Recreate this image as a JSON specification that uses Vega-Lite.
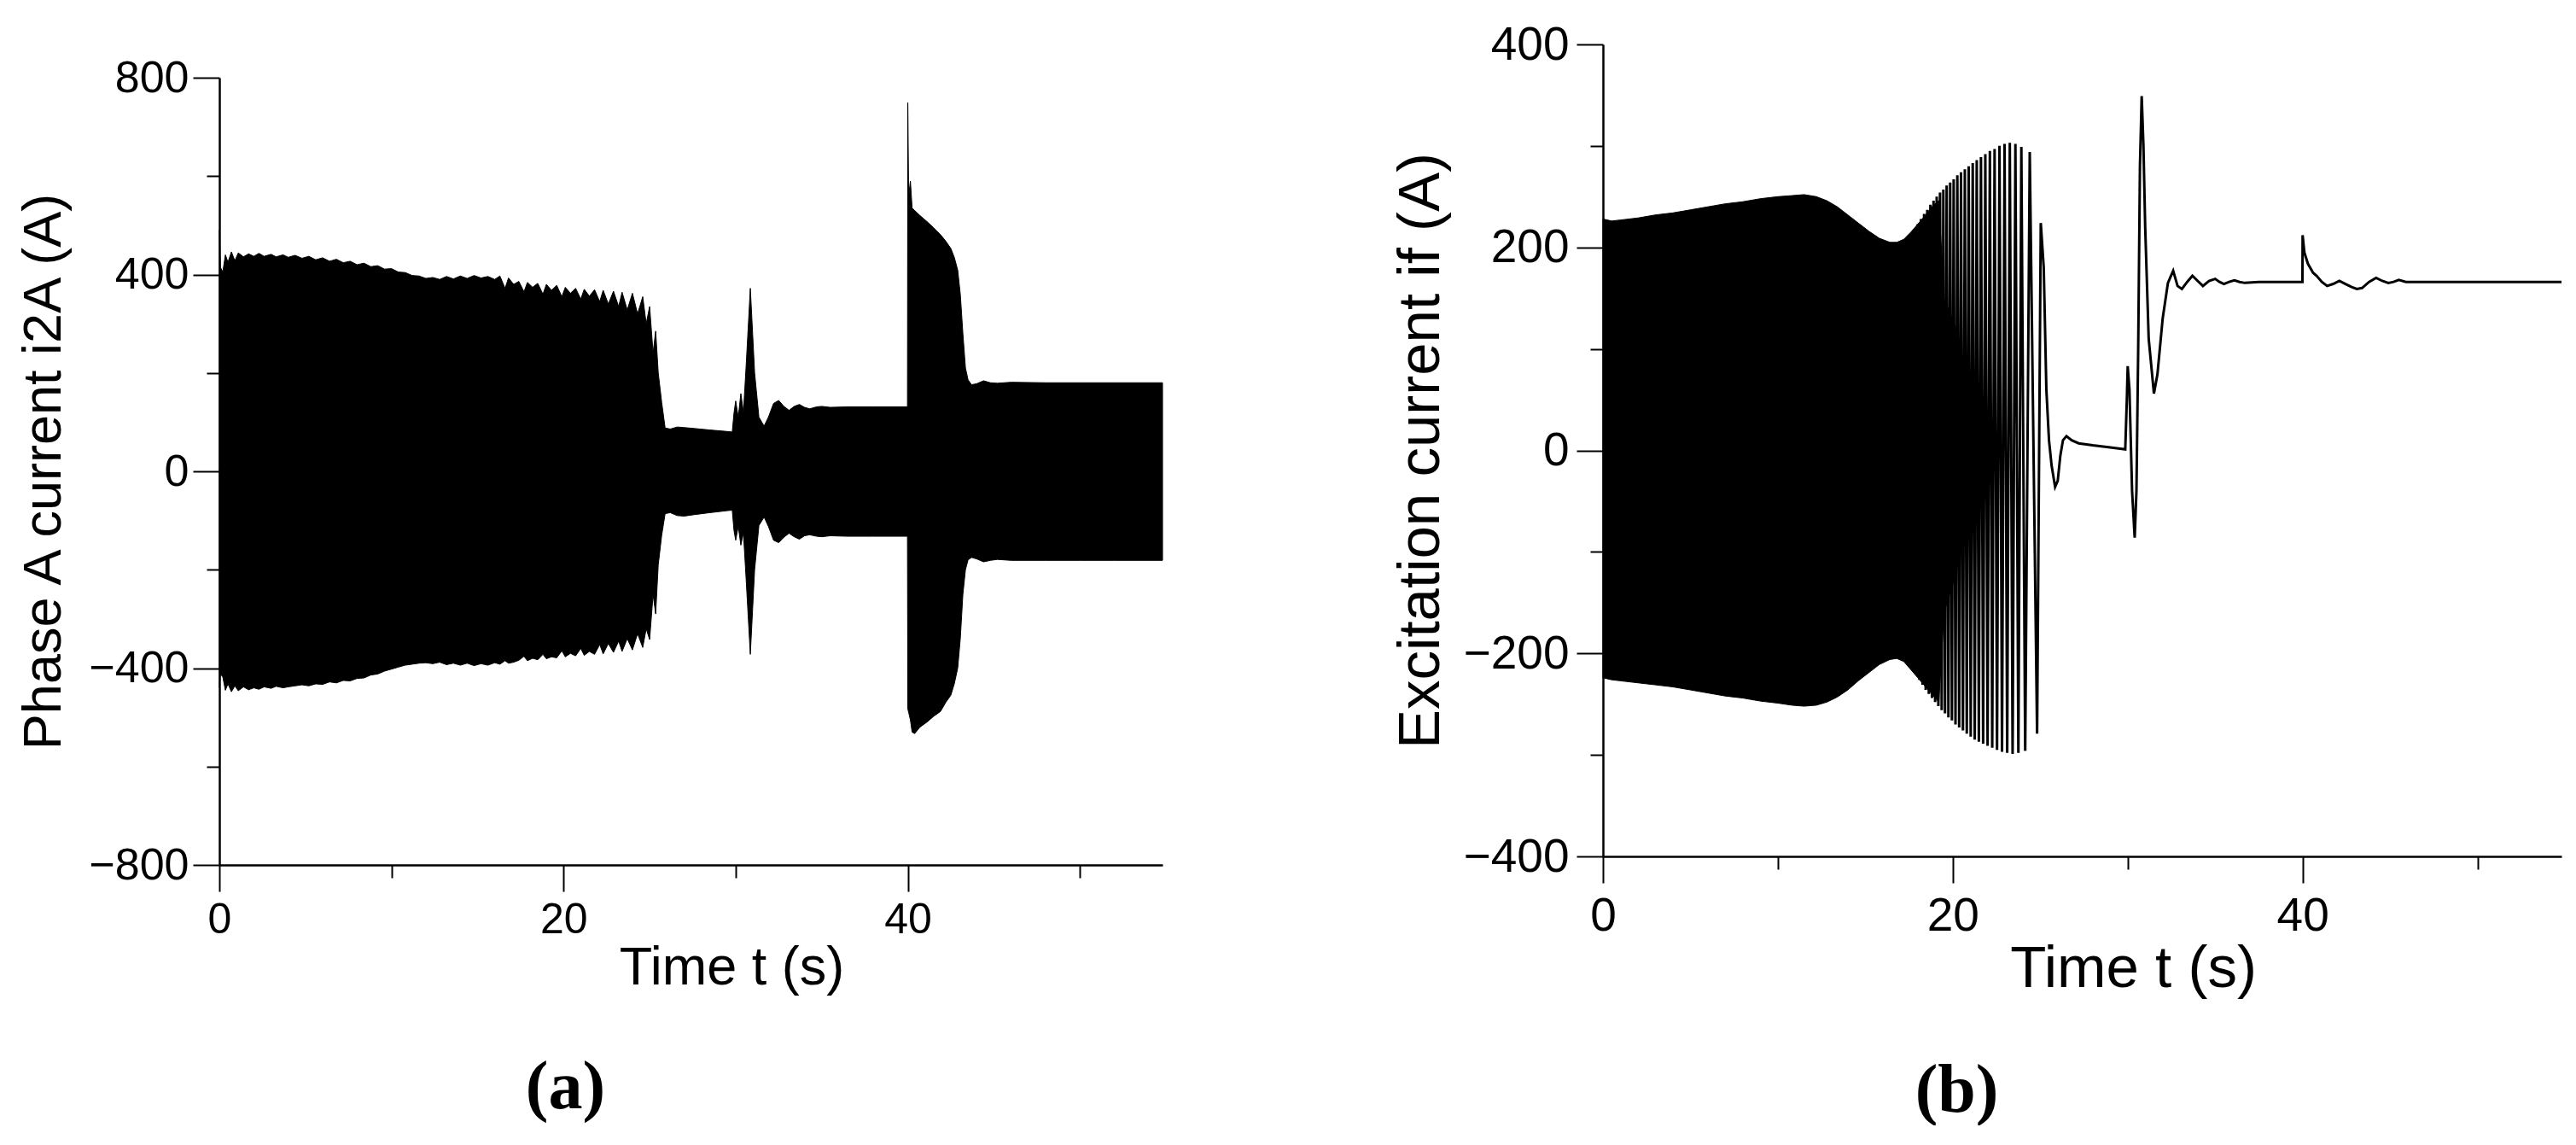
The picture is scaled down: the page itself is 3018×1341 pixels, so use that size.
{
  "$schema": "https://vega.github.io/schema/vega-lite/v6.json",
  "background": "white",
  "padding": {"left": 20, "top": 25, "right": 5, "bottom": 0},
  "config": {
    "view": {"stroke": null},
    "axis": {"domainColor": "black", "domainWidth": 2.5, "tickColor": "black", "tickWidth": 2, "labelColor": "black", "titleColor": "black", "labelFont": "Liberation Sans", "titleFont": "Liberation Sans", "titleFontWeight": "normal", "grid": false, "labelFlush": false, "labelOverlap": false}
  },
  "datasets": {
    "a": [
      {"t": 0.0, "hi": 490, "lo": -440}, {"t": 0.06, "hi": 415, "lo": -412}, {"t": 0.2, "hi": 405, "lo": -418}, {"t": 0.35, "hi": 440, "lo": -445},
      {"t": 0.5, "hi": 425, "lo": -432}, {"t": 0.7, "hi": 446, "lo": -448}, {"t": 0.9, "hi": 428, "lo": -436}, {"t": 1.1, "hi": 444, "lo": -446},
      {"t": 1.4, "hi": 436, "lo": -438}, {"t": 1.7, "hi": 442, "lo": -444}, {"t": 2.0, "hi": 437, "lo": -440}, {"t": 2.3, "hi": 443, "lo": -443},
      {"t": 2.6, "hi": 437, "lo": -438}, {"t": 3.0, "hi": 441, "lo": -441}, {"t": 3.3, "hi": 436, "lo": -437}, {"t": 3.7, "hi": 440, "lo": -440},
      {"t": 4.0, "hi": 435, "lo": -438}, {"t": 4.4, "hi": 439, "lo": -436}, {"t": 4.8, "hi": 433, "lo": -434}, {"t": 5.2, "hi": 437, "lo": -436},
      {"t": 5.6, "hi": 430, "lo": -432}, {"t": 6.0, "hi": 434, "lo": -433}, {"t": 6.4, "hi": 427, "lo": -428}, {"t": 6.8, "hi": 431, "lo": -430},
      {"t": 7.2, "hi": 424, "lo": -425}, {"t": 7.6, "hi": 427, "lo": -426}, {"t": 8.0, "hi": 420, "lo": -421}, {"t": 8.4, "hi": 423, "lo": -420},
      {"t": 8.8, "hi": 416, "lo": -414}, {"t": 9.2, "hi": 418, "lo": -412}, {"t": 9.6, "hi": 411, "lo": -406}, {"t": 10.0, "hi": 412, "lo": -402},
      {"t": 10.4, "hi": 405, "lo": -398}, {"t": 10.8, "hi": 404, "lo": -394}, {"t": 11.2, "hi": 398, "lo": -392}, {"t": 11.6, "hi": 397, "lo": -390},
      {"t": 12.0, "hi": 392, "lo": -389}, {"t": 12.4, "hi": 394, "lo": -391}, {"t": 12.8, "hi": 390, "lo": -388}, {"t": 13.2, "hi": 396, "lo": -393},
      {"t": 13.6, "hi": 391, "lo": -390}, {"t": 14.0, "hi": 397, "lo": -394}, {"t": 14.4, "hi": 392, "lo": -390}, {"t": 14.8, "hi": 398, "lo": -395},
      {"t": 15.2, "hi": 393, "lo": -391}, {"t": 15.6, "hi": 396, "lo": -394}, {"t": 16.0, "hi": 390, "lo": -389}, {"t": 16.3, "hi": 397, "lo": -392},
      {"t": 16.6, "hi": 372, "lo": -385}, {"t": 16.8, "hi": 393, "lo": -390}, {"t": 17.1, "hi": 380, "lo": -388}, {"t": 17.4, "hi": 386, "lo": -384},
      {"t": 17.7, "hi": 365, "lo": -376}, {"t": 17.9, "hi": 384, "lo": -385}, {"t": 18.2, "hi": 374, "lo": -380}, {"t": 18.5, "hi": 382, "lo": -383},
      {"t": 18.8, "hi": 360, "lo": -372}, {"t": 19.0, "hi": 380, "lo": -381}, {"t": 19.3, "hi": 368, "lo": -377}, {"t": 19.6, "hi": 378, "lo": -379},
      {"t": 19.9, "hi": 355, "lo": -365}, {"t": 20.1, "hi": 374, "lo": -377}, {"t": 20.4, "hi": 362, "lo": -370}, {"t": 20.7, "hi": 372, "lo": -375},
      {"t": 21.0, "hi": 350, "lo": -360}, {"t": 21.2, "hi": 370, "lo": -374}, {"t": 21.5, "hi": 356, "lo": -366}, {"t": 21.8, "hi": 369, "lo": -372},
      {"t": 22.1, "hi": 345, "lo": -352}, {"t": 22.3, "hi": 368, "lo": -371}, {"t": 22.6, "hi": 340, "lo": -350}, {"t": 22.9, "hi": 366, "lo": -368},
      {"t": 23.2, "hi": 335, "lo": -345}, {"t": 23.4, "hi": 364, "lo": -366}, {"t": 23.7, "hi": 328, "lo": -340}, {"t": 24.0, "hi": 362, "lo": -363},
      {"t": 24.3, "hi": 320, "lo": -330}, {"t": 24.6, "hi": 355, "lo": -358}, {"t": 24.8, "hi": 300, "lo": -320}, {"t": 25.0, "hi": 335, "lo": -342},
      {"t": 25.2, "hi": 240, "lo": -250}, {"t": 25.35, "hi": 285, "lo": -290}, {"t": 25.5, "hi": 200, "lo": -190}, {"t": 25.7, "hi": 140, "lo": -130},
      {"t": 25.9, "hi": 88, "lo": -86}, {"t": 26.2, "hi": 86, "lo": -84}, {"t": 26.6, "hi": 90, "lo": -90}, {"t": 27.0, "hi": 89, "lo": -91},
      {"t": 27.6, "hi": 87, "lo": -88}, {"t": 28.5, "hi": 84, "lo": -84}, {"t": 29.5, "hi": 81, "lo": -80}, {"t": 29.8, "hi": 80, "lo": -79},
      {"t": 29.9, "hi": 118, "lo": -120}, {"t": 30.0, "hi": 143, "lo": -140}, {"t": 30.15, "hi": 110, "lo": -112}, {"t": 30.3, "hi": 158, "lo": -150},
      {"t": 30.45, "hi": 120, "lo": -125}, {"t": 30.6, "hi": 210, "lo": -215}, {"t": 30.85, "hi": 372, "lo": -372}, {"t": 31.1, "hi": 200, "lo": -200},
      {"t": 31.35, "hi": 110, "lo": -110}, {"t": 31.65, "hi": 92, "lo": -93}, {"t": 31.9, "hi": 110, "lo": -112}, {"t": 32.2, "hi": 138, "lo": -140},
      {"t": 32.5, "hi": 144, "lo": -145}, {"t": 32.8, "hi": 132, "lo": -134}, {"t": 33.1, "hi": 124, "lo": -126}, {"t": 33.4, "hi": 132, "lo": -133},
      {"t": 33.7, "hi": 136, "lo": -138}, {"t": 34.0, "hi": 130, "lo": -131}, {"t": 34.3, "hi": 127, "lo": -129}, {"t": 34.7, "hi": 131, "lo": -132},
      {"t": 35.0, "hi": 132, "lo": -133}, {"t": 35.5, "hi": 130, "lo": -131}, {"t": 36.5, "hi": 131, "lo": -132}, {"t": 38.0, "hi": 131, "lo": -132},
      {"t": 39.98, "hi": 131, "lo": -132}, {"t": 40.0, "hi": 749, "lo": -483}, {"t": 40.05, "hi": 560, "lo": -490}, {"t": 40.15, "hi": 590, "lo": -505},
      {"t": 40.25, "hi": 535, "lo": -530}, {"t": 40.4, "hi": 530, "lo": -533}, {"t": 40.7, "hi": 520, "lo": -520}, {"t": 41.1, "hi": 508, "lo": -510},
      {"t": 41.5, "hi": 495, "lo": -498}, {"t": 41.9, "hi": 481, "lo": -488}, {"t": 42.2, "hi": 468, "lo": -470}, {"t": 42.5, "hi": 453, "lo": -455},
      {"t": 42.7, "hi": 435, "lo": -432}, {"t": 42.9, "hi": 409, "lo": -400}, {"t": 43.05, "hi": 360, "lo": -340}, {"t": 43.2, "hi": 280, "lo": -250},
      {"t": 43.35, "hi": 210, "lo": -200}, {"t": 43.5, "hi": 186, "lo": -180}, {"t": 43.7, "hi": 176, "lo": -175}, {"t": 44.0, "hi": 178, "lo": -178},
      {"t": 44.4, "hi": 184, "lo": -184}, {"t": 44.8, "hi": 180, "lo": -181}, {"t": 45.2, "hi": 179, "lo": -179}, {"t": 46.0, "hi": 181, "lo": -181},
      {"t": 48.0, "hi": 180, "lo": -181}, {"t": 50.0, "hi": 180, "lo": -181}, {"t": 52.0, "hi": 180, "lo": -181}, {"t": 54.8, "hi": 180, "lo": -181}
    ],
    "benv": [
      {"t": 0.0, "hi": 228, "lo": -224}, {"t": 0.5, "hi": 226, "lo": -226}, {"t": 1.0, "hi": 227, "lo": -227}, {"t": 2.0, "hi": 229, "lo": -229},
      {"t": 3.0, "hi": 232, "lo": -231}, {"t": 4.0, "hi": 234, "lo": -233}, {"t": 5.0, "hi": 237, "lo": -236}, {"t": 6.0, "hi": 240, "lo": -239},
      {"t": 7.0, "hi": 243, "lo": -242}, {"t": 8.0, "hi": 245, "lo": -244}, {"t": 9.0, "hi": 248, "lo": -247}, {"t": 10.0, "hi": 250, "lo": -249},
      {"t": 10.8, "hi": 251, "lo": -251}, {"t": 11.5, "hi": 252, "lo": -252}, {"t": 12.2, "hi": 250, "lo": -251}, {"t": 12.8, "hi": 246, "lo": -248},
      {"t": 13.4, "hi": 240, "lo": -243}, {"t": 14.0, "hi": 232, "lo": -236}, {"t": 14.6, "hi": 224, "lo": -227}, {"t": 15.2, "hi": 216, "lo": -219},
      {"t": 15.8, "hi": 209, "lo": -211}, {"t": 16.4, "hi": 205, "lo": -206}, {"t": 16.8, "hi": 205, "lo": -205}, {"t": 17.2, "hi": 208, "lo": -208},
      {"t": 17.6, "hi": 215, "lo": -216}, {"t": 18.0, "hi": 223, "lo": -224}, {"t": 18.4, "hi": 231, "lo": -232}, {"t": 18.8, "hi": 240, "lo": -240},
      {"t": 19.2, "hi": 246, "lo": -248}, {"t": 19.5, "hi": 150, "lo": -160}, {"t": 20.2, "hi": 120, "lo": -120}, {"t": 20.9, "hi": 60, "lo": -60}
    ],
    "bline": [
      {"t": 18.0, "v": 223}, {"t": 18.09, "v": -226}, {"t": 18.18, "v": 228}, {"t": 18.27, "v": -231}, {"t": 18.36, "v": 233}, {"t": 18.45, "v": -236},
      {"t": 18.54, "v": 237}, {"t": 18.63, "v": -240}, {"t": 18.72, "v": 242}, {"t": 18.81, "v": -244}, {"t": 18.9, "v": 246}, {"t": 18.99, "v": -248},
      {"t": 19.08, "v": 250}, {"t": 19.175, "v": -252}, {"t": 19.27, "v": 254}, {"t": 19.365, "v": -256}, {"t": 19.46, "v": 257}, {"t": 19.555, "v": -259},
      {"t": 19.65, "v": 261}, {"t": 19.75, "v": -263}, {"t": 19.85, "v": 264}, {"t": 19.95, "v": -266}, {"t": 20.05, "v": 267}, {"t": 20.155, "v": -270},
      {"t": 20.26, "v": 271}, {"t": 20.365, "v": -273}, {"t": 20.47, "v": 274}, {"t": 20.58, "v": -276}, {"t": 20.69, "v": 277}, {"t": 20.8, "v": -279},
      {"t": 20.91, "v": 280}, {"t": 21.025, "v": -282}, {"t": 21.14, "v": 283}, {"t": 21.255, "v": -285}, {"t": 21.37, "v": 286}, {"t": 21.49, "v": -287},
      {"t": 21.61, "v": 289}, {"t": 21.735, "v": -289}, {"t": 21.86, "v": 292}, {"t": 21.99, "v": -291}, {"t": 22.12, "v": 295}, {"t": 22.255, "v": -293},
      {"t": 22.39, "v": 297}, {"t": 22.53, "v": -295}, {"t": 22.67, "v": 300}, {"t": 22.815, "v": -297}, {"t": 22.96, "v": 302}, {"t": 23.11, "v": -298},
      {"t": 23.26, "v": 303}, {"t": 23.42, "v": -299}, {"t": 23.58, "v": 302}, {"t": 23.75, "v": -298}, {"t": 23.92, "v": 299}, {"t": 24.14, "v": -296},
      {"t": 24.4, "v": 294}, {"t": 24.82, "v": -279}, {"t": 25.03, "v": 224}, {"t": 25.2, "v": 180}, {"t": 25.35, "v": 60}, {"t": 25.5, "v": 10},
      {"t": 25.65, "v": -15}, {"t": 25.85, "v": -36}, {"t": 26.0, "v": -30}, {"t": 26.15, "v": -5}, {"t": 26.3, "v": 10}, {"t": 26.5, "v": 14},
      {"t": 26.8, "v": 10}, {"t": 27.2, "v": 7}, {"t": 28.0, "v": 5}, {"t": 29.0, "v": 3}, {"t": 29.86, "v": 1}, {"t": 29.95, "v": 50},
      {"t": 30.0, "v": 83}, {"t": 30.1, "v": 60}, {"t": 30.25, "v": -40}, {"t": 30.4, "v": -86}, {"t": 30.5, "v": -40}, {"t": 30.6, "v": 100},
      {"t": 30.7, "v": 280}, {"t": 30.8, "v": 349}, {"t": 30.9, "v": 300}, {"t": 31.0, "v": 220}, {"t": 31.2, "v": 110}, {"t": 31.5, "v": 56},
      {"t": 31.7, "v": 75}, {"t": 32.0, "v": 130}, {"t": 32.3, "v": 165}, {"t": 32.6, "v": 177}, {"t": 32.85, "v": 162}, {"t": 33.1, "v": 159},
      {"t": 33.4, "v": 166}, {"t": 33.7, "v": 172}, {"t": 34.0, "v": 167}, {"t": 34.3, "v": 162}, {"t": 34.65, "v": 167}, {"t": 35.0, "v": 169},
      {"t": 35.25, "v": 166}, {"t": 35.5, "v": 164}, {"t": 35.8, "v": 166}, {"t": 36.1, "v": 167.5}, {"t": 36.4, "v": 166}, {"t": 36.7, "v": 165},
      {"t": 37.5, "v": 166}, {"t": 39.99, "v": 166}, {"t": 40.0, "v": 212}, {"t": 40.1, "v": 195}, {"t": 40.3, "v": 184}, {"t": 40.6, "v": 175},
      {"t": 40.8, "v": 172}, {"t": 41.1, "v": 166}, {"t": 41.4, "v": 162}, {"t": 41.75, "v": 164}, {"t": 42.1, "v": 167}, {"t": 42.45, "v": 164},
      {"t": 42.8, "v": 161}, {"t": 43.1, "v": 159}, {"t": 43.4, "v": 160}, {"t": 43.8, "v": 166}, {"t": 44.2, "v": 170}, {"t": 44.55, "v": 167},
      {"t": 44.9, "v": 165}, {"t": 45.2, "v": 166}, {"t": 45.5, "v": 168}, {"t": 45.9, "v": 166}, {"t": 47.0, "v": 166}, {"t": 54.8, "v": 166}
    ]
  },
  "spacing": 266,
  "hconcat": [
    {
      "spacing": 0,
      "vconcat": [
        {
          "width": 1105,
          "height": 13,
          "data": {"values": []},
          "mark": "rect"
        },
        {
          "width": 1105,
          "height": 922,
          "title": {"text": "(a)", "orient": "bottom", "anchor": "middle", "frame": "bounds", "font": "Liberation Serif", "fontSize": 80, "fontWeight": "bold", "color": "black", "offset": 70, "dx": -30},
          "data": {"name": "a"},
          "mark": {"type": "area", "color": "black", "stroke": "black", "strokeWidth": 1},
          "encoding": {
            "x": {"field": "t", "type": "quantitative", "scale": {"domain": [0, 54.8], "nice": false, "zero": false},
              "axis": {"values": [0, 10, 20, 30, 40, 50], "labelExpr": "datum.value % 20 === 0 ? datum.label : ''",
                "tickSize": {"condition": {"test": "datum.value % 20 === 0", "value": 31}, "value": 15},
                "labelFontSize": 50, "labelPadding": 8, "title": "Time t (s)", "titleFontSize": 63, "titlePadding": 0, "titleX": 600}},
            "y": {"field": "hi", "type": "quantitative", "scale": {"domain": [-800, 800], "nice": false},
              "axis": {"values": [-800, -600, -400, -200, 0, 200, 400, 600, 800], "labelExpr": "datum.value % 400 === 0 ? datum.label : ''",
                "tickSize": {"condition": {"test": "datum.value % 400 === 0", "value": 31}, "value": 15},
                "labelFontSize": 52, "labelPadding": 5, "title": "Phase A current i2A (A)", "titleFontSize": 63, "titlePadding": 20}},
            "y2": {"field": "lo"}
          }
        }
      ]
    },
    {
      "width": 1123,
      "height": 951,
      "title": {"text": "(b)", "orient": "bottom", "anchor": "middle", "frame": "bounds", "font": "Liberation Serif", "fontSize": 80, "fontWeight": "bold", "color": "black", "offset": 70, "dx": -26},
      "encoding": {
        "x": {"field": "t", "type": "quantitative", "scale": {"domain": [0, 54.8], "nice": false, "zero": false},
          "axis": {"values": [0, 10, 20, 30, 40, 50], "labelExpr": "datum.value % 20 === 0 ? datum.label : ''",
            "tickSize": {"condition": {"test": "datum.value % 20 === 0", "value": 31}, "value": 15},
            "labelFontSize": 55, "labelPadding": 12, "title": "Time t (s)", "titleFontSize": 69, "titlePadding": 0, "titleX": 621}}
      },
      "layer": [
        {
          "data": {"name": "benv"},
          "mark": {"type": "area", "color": "black", "stroke": "black", "strokeWidth": 1},
          "encoding": {
            "y": {"field": "hi", "type": "quantitative", "scale": {"domain": [-400, 400], "nice": false},
              "axis": {"values": [-400, -300, -200, -100, 0, 100, 200, 300, 400], "labelExpr": "datum.value % 200 === 0 ? datum.label : ''",
                "tickSize": {"condition": {"test": "datum.value % 200 === 0", "value": 31}, "value": 15},
                "labelFontSize": 55, "labelPadding": 9, "title": "Excitation current if (A)", "titleFontSize": 69, "titlePadding": 15}},
            "y2": {"field": "lo"}
          }
        },
        {
          "data": {"name": "bline"},
          "mark": {"type": "line", "color": "black", "strokeWidth": 3},
          "encoding": {
            "y": {"field": "v", "type": "quantitative"}
          }
        }
      ]
    }
  ]
}
